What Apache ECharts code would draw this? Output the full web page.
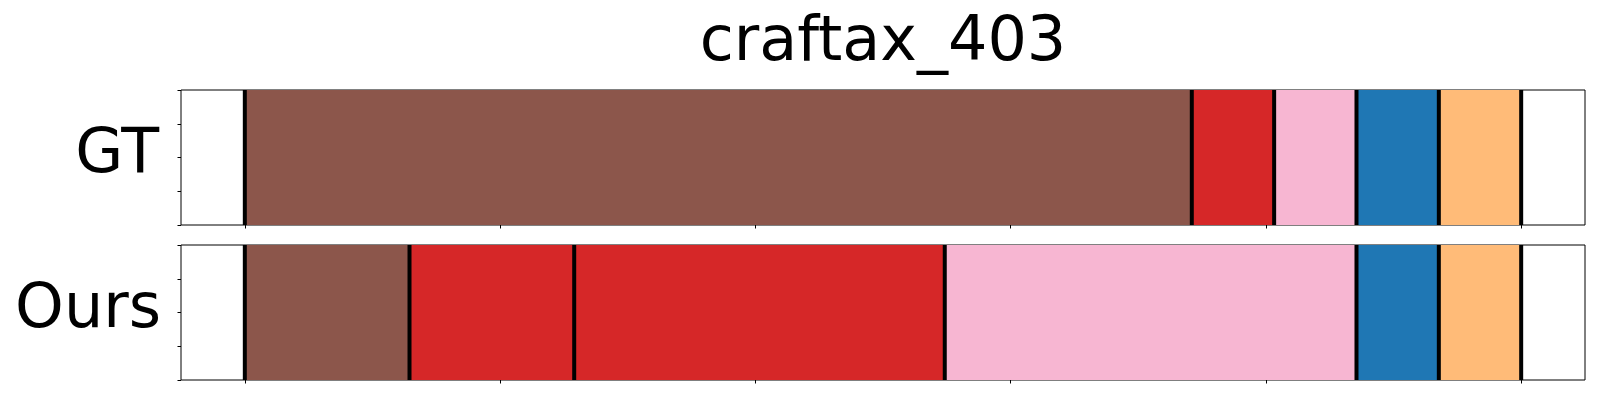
<!DOCTYPE html>
<html>
<head>
<meta charset="utf-8">
<script src="https://cdn.jsdelivr.net/npm/echarts@6/dist/echarts.min.js"></script>
<style>html,body{margin:0;padding:0;background:#fff;}#c{width:1600px;height:400px;}</style>
</head>
<body>
<div id="c"></div>
<script>
// ---- data ----
var title = 'craftax_403';
var rowLabels = ['GT', 'Ours'];
var gtLengths = [23, 2, 2, 2, 2];
var gtColors = ['#8c564b', '#d62728', '#f7b6d2', '#1f77b4', '#ffbb78'];
var oursLengths = [4, 4, 9, 10, 2, 2];
var oursColors = ['#8c564b', '#d62728', '#d62728', '#f7b6d2', '#1f77b4', '#ffbb78'];
var xTicks = [0, 6.2, 12.4, 18.6, 24.8, 31];
var xMin = -1.55, xMax = 32.55;
var yTicks = [0, 0.25, 0.5, 0.75, 1];

function segments(lengths) {
  var out = [], s = 0;
  for (var i = 0; i < lengths.length; i++) { out.push([s, s + lengths[i], i]); s += lengths[i]; }
  return out;
}
function boundaries(lengths) {
  var out = [[0]], s = 0;
  for (var i = 0; i < lengths.length; i++) { s += lengths[i]; out.push([s]); }
  return out;
}
function segRenderer(colors) {
  return function (params, api) {
    var p0 = api.coord([api.value(0), 1]);
    var p1 = api.coord([api.value(1), 0]);
    return { type: 'rect', shape: { x: p0[0], y: p0[1], width: p1[0] - p0[0], height: p1[1] - p0[1] },
      style: { fill: colors[api.value(2)] } };
  };
}
function lineRenderer(params, api) {
  var a = api.coord([api.value(0), 1]);
  var b = api.coord([api.value(0), 0]);
  return { type: 'line', shape: { x1: a[0], y1: a[1], x2: b[0], y2: b[1] }, style: { stroke: '#000', lineWidth: 4 } };
}

var font = 'DejaVu Sans';
var grids = [
  { left: 181, top: 90, width: 1404, height: 135, show: true, borderColor: '#000', borderWidth: 1, backgroundColor: 'transparent' },
  { left: 181, top: 245, width: 1404, height: 135, show: true, borderColor: '#000', borderWidth: 1, backgroundColor: 'transparent' }
];
function xAx(i) {
  return { type: 'value', gridIndex: i, min: xMin, max: xMax, splitLine: { show: false },
    axisLine: { show: false, onZero: false }, axisLabel: { show: false },
    axisTick: { show: true, inside: false, length: 3.5, customValues: xTicks, lineStyle: { color: '#000', width: 1 } } };
}
function yAx(i) {
  return { type: 'value', gridIndex: i, min: 0, max: 1, splitLine: { show: false },
    axisLine: { show: false, onZero: false }, axisLabel: { show: false },
    axisTick: { show: true, inside: false, length: 3.5, customValues: yTicks, lineStyle: { color: '#000', width: 1 } } };
}

var chart = echarts.init(document.getElementById('c'));
chart.setOption({
  animation: false,
  backgroundColor: '#fff',
  grid: grids,
  xAxis: [xAx(0), xAx(1)],
  yAxis: [yAx(0), yAx(1)],
  series: [
    { type: 'custom', xAxisIndex: 0, yAxisIndex: 0, renderItem: segRenderer(gtColors), data: segments(gtLengths), z: 1 },
    { type: 'custom', xAxisIndex: 0, yAxisIndex: 0, renderItem: lineRenderer, data: boundaries(gtLengths), z: 2 },
    { type: 'custom', xAxisIndex: 1, yAxisIndex: 1, renderItem: segRenderer(oursColors), data: segments(oursLengths), z: 1 },
    { type: 'custom', xAxisIndex: 1, yAxisIndex: 1, renderItem: lineRenderer, data: boundaries(oursLengths), z: 2 }
  ],
  graphic: [
    { type: 'text', x: 883, y: 44, style: { text: title, font: '62px "' + font + '"', fill: '#000', align: 'center', verticalAlign: 'middle' } },
    { type: 'text', x: 159, y: 156, style: { text: rowLabels[0], font: '62px "' + font + '"', fill: '#000', align: 'right', verticalAlign: 'middle' } },
    { type: 'text', x: 161, y: 311, style: { text: rowLabels[1], font: '62px "' + font + '"', fill: '#000', align: 'right', verticalAlign: 'middle' } }
  ]
});
</script>
</body>
</html>
